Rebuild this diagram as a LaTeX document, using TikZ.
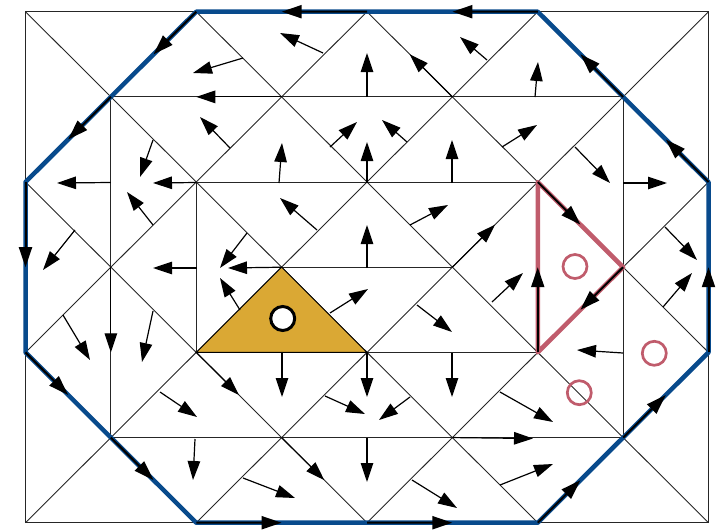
\documentclass[tikz,border=0pt]{standalone}
\usetikzlibrary{arrows.meta,calc}
\definecolor{bblue}{RGB}{8,74,140}
\definecolor{rred}{RGB}{192,92,108}
\definecolor{oorange}{RGB}{218,168,52}
\begin{document}
\begin{tikzpicture}[x=1pt,y=-1pt,
  mesh/.style={line width=0.9pt,black!85},
  varrow/.style={line width=1.2pt,-{Triangle[length=19pt,width=12.5pt]}},
  barrow/.style={line width=2pt,-{Triangle[length=20pt,width=13pt]}},
  bnd/.style={line width=4.5pt,bblue,line join=round},
  redge/.style={line width=4.5pt,rred,line join=round},
  rcirc/.style={draw=rred,line width=2.7pt},
  wcirc/.style={draw=black,fill=white,line width=3pt}]
\useasboundingbox (0,0) rectangle (728,530);
\foreach \i in {0,...,8}{\foreach \j in {0,...,6}{
  \coordinate (p\i\j) at ({25.5+85.375*\i},{11.7+85.17*\j});}}
% mesh
\draw[mesh] (p00) rectangle (p86);
\draw[mesh] (p11) -- (p71) (p22) -- (p62) (p33) -- (p53) (p24) -- (p64) (p15) -- (p75);
\draw[mesh] (p11) -- (p15) (p71) -- (p75) (p22) -- (p24) (p62) -- (p64);
\draw[mesh] (p04)--(p26) (p02)--(p46) (p00)--(p66) (p20)--(p86) (p40)--(p84) (p60)--(p82);
\draw[mesh] (p20)--(p02) (p40)--(p04) (p60)--(p06) (p80)--(p26) (p82)--(p46) (p84)--(p66);
% orange triangle
\filldraw[fill=oorange,draw=black,line width=0.9pt] (p33)--(p44)--(p24)--cycle;
% boundary and red triangle
\draw[bnd] (p20)--(p60)--(p82)--(p84)--(p66)--(p26)--(p04)--(p02)--cycle;
\draw[redge] (p62)--(p73)--(p64)--cycle;
% boundary arrows
\foreach \a/\b in {p40/p20,p60/p40,p20/p11,p11/p02,p02/p04,p04/p15,p15/p26,p26/p46,p46/p66,p66/p75,p75/p84,p84/p82,p82/p71,p71/p60,p62/p73,p73/p64,p64/p62}
  \draw[barrow] (\a) -- ($(\a)!0.5!(\b)$);
% arrows along edges
\foreach \a/\b in {p31/p11,p51/p40,p13/p15,p53/p62,p24/p35,p35/p46}
  \draw[varrow] (\a) -- ($(\a)!0.5!(\b)$);
\draw[varrow] (p55) -- (533,438.5);
\draw[varrow] (p33) -- (228,268);
% field arrows
\foreach \sx/\sy/\tx/\ty in {
 243/58/193/73, 230/148/200/117, 153/140/140/177, 110.9/182.5/57/183, 196.5/182.5/153/183,
 323/53/280/33, 367/97/367/53, 487/60/460/37, 330/147/357/122, 407/142/382/120,
 367/183/367/142, 279/183/282/143, 452/183/452/140, 535/97/538/62, 502/147/537/125,
 575/147/610/183, 623/183/667/183, 153/225/127/192, 75/230/43/270, 196.5/268/153/268,
 247/233/220/268, 240/310/220/278, 63/315/90/360, 317/230/280/198, 367/268/367/225,
 410/225/448/205, 330/313/368/289, 417/305/452/332, 492/302/523/273, 665/227/697/260,
 663/307/692/273, 623/353/577/350, 153/311/142/362, 160/392/197/417, 195/439/193/480,
 282/353/282/397, 367/353/367/397, 452/353/452/397, 325/396/365/414, 410/397/379/420,
 367/438/367/482, 243/478/295/498, 412/480/457/508, 500/392/553/422, 500/485/553/464}
  \draw[varrow] (\sx,\sy) -- (\tx,\ty);
% circles
\draw[wcirc] (282.7,318.5) circle[radius=12pt];
\draw[rcirc] (575,266.5) circle[radius=12pt];
\draw[rcirc] (654.3,353.3) circle[radius=12pt];
\draw[rcirc] (579.3,392.7) circle[radius=12pt];
\end{tikzpicture}
\end{document}
